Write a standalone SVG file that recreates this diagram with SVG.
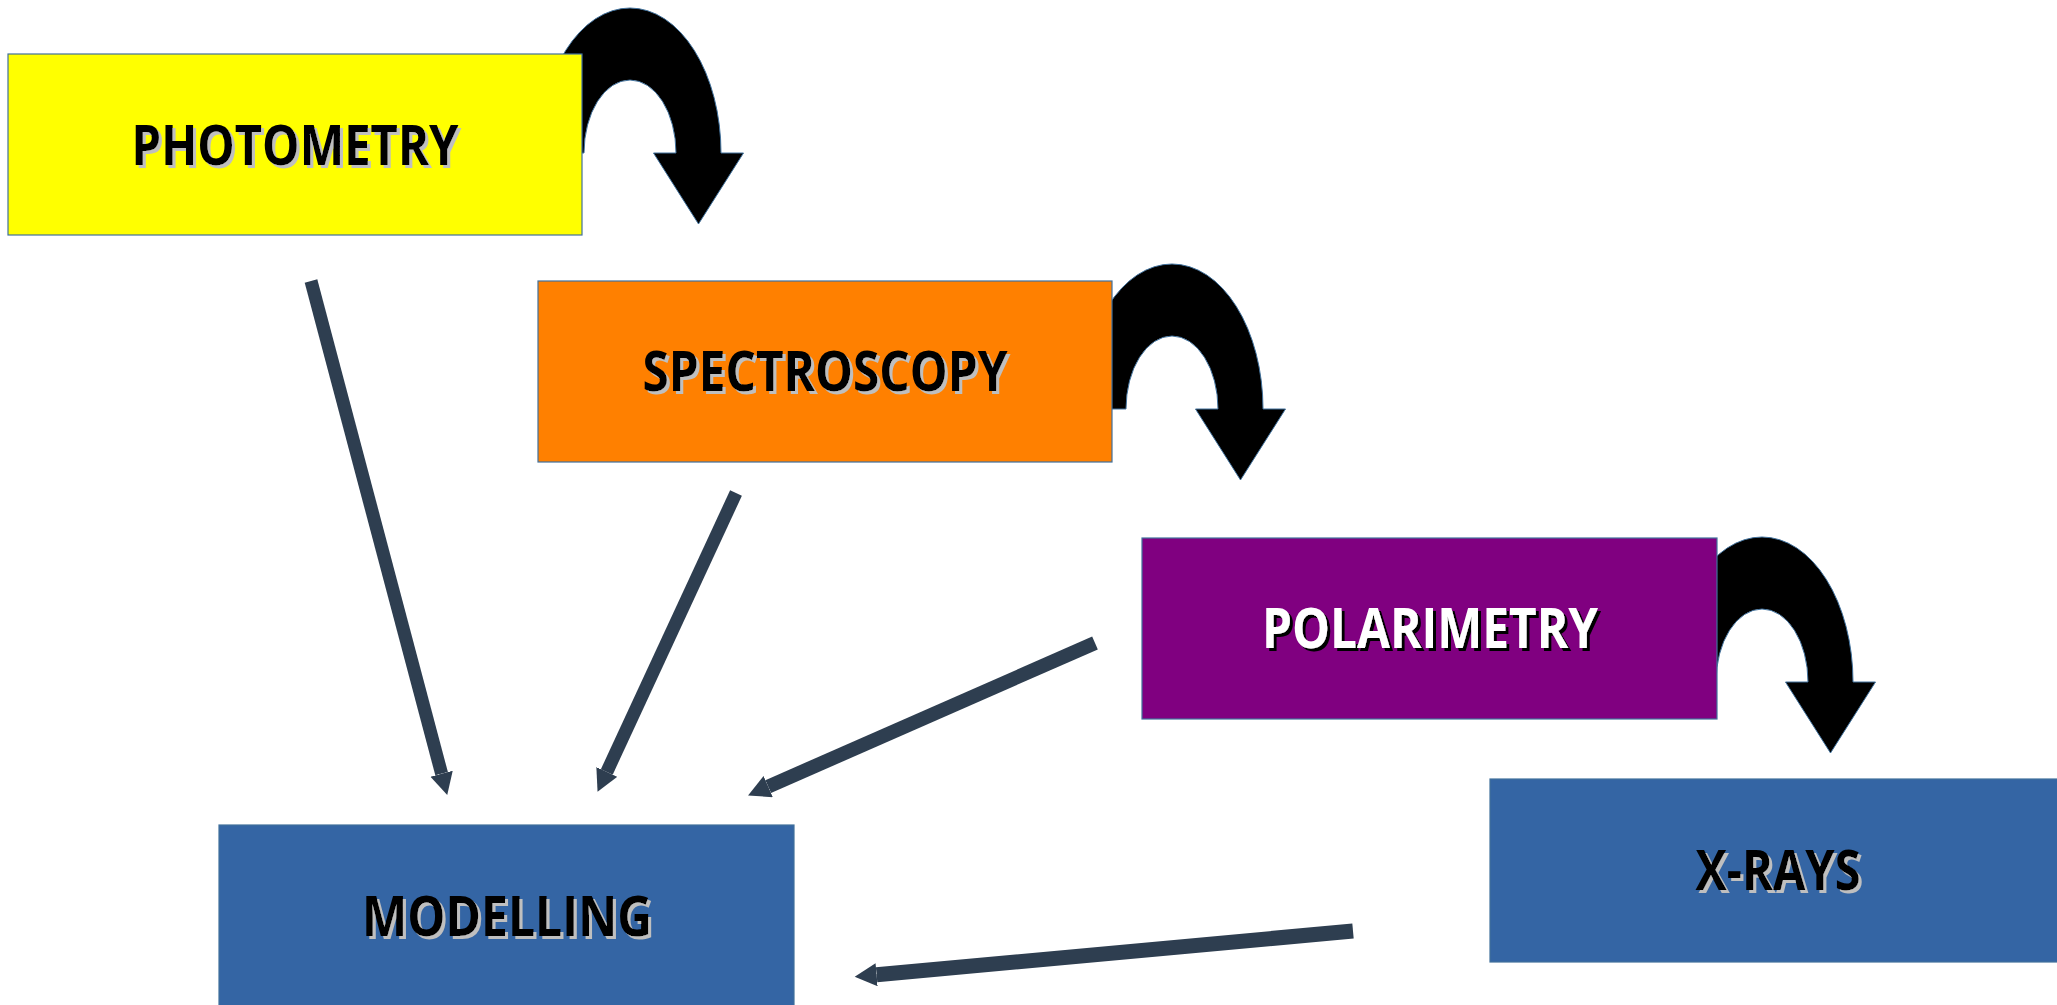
<svg xmlns="http://www.w3.org/2000/svg" xmlns:xlink="http://www.w3.org/1999/xlink" width="2057" height="1005" viewBox="0 0 2057 1005">
  <style>
    .box { stroke: #41719C; stroke-width: 1.2; }
    .lbl { font-family: "Open Sans", "Noto Sans", "DejaVu Sans", sans-serif; font-weight: bold; font-size: 55px; text-anchor: middle; }
    .dark { fill: #000000; filter: url(#shLight); }
    .light { fill: #FFFFFF; filter: url(#shDark); }
    .conn { stroke: #2E3E50; stroke-width: 13; fill: none; stroke-linecap: butt; marker-end: url(#ah); }
    .uturn { fill: #000000; stroke: #41719C; stroke-width: 1; }
  </style>
  <defs>
    <filter id="shLight" x="-5%" y="-20%" width="115%" height="150%">
      <feDropShadow dx="3" dy="3" stdDeviation="0.6" flood-color="#BFBFBF" flood-opacity="1"/>
    </filter>
    <filter id="shDark" x="-5%" y="-20%" width="115%" height="150%">
      <feDropShadow dx="3" dy="3" stdDeviation="0.6" flood-color="#000000" flood-opacity="1"/>
    </filter>
    <marker id="ah" markerUnits="userSpaceOnUse" markerWidth="24" markerHeight="24" refX="0" refY="11.5" orient="auto">
      <path d="M0,0 L22,11.5 L0,23 Z" fill="#2E3E50"/>
    </marker>
    <path id="uturn" d="M -91,0 A 91 145 0 0 1 91,0 L 113.5,0 L 68.5,71 L 23.5,0 L 46,0 A 46 73 0 0 0 -46,0 Z"/>
  </defs>

  <g id="uturn-arrows">
    <use xlink:href="#uturn" class="uturn" transform="translate(630,153)"/>
    <use xlink:href="#uturn" class="uturn" transform="translate(1172,409)"/>
    <use xlink:href="#uturn" class="uturn" transform="translate(1762,682)"/>
  </g>

  <g id="connectors">
    <line class="conn" x1="311" y1="281" x2="441.6" y2="773.7"/>
    <line class="conn" x1="736" y1="493" x2="606.8" y2="771.9"/>
    <line class="conn" x1="1095" y1="643" x2="768.2" y2="786.6" style="stroke-width:14"/>
    <line class="conn" x1="1353" y1="931" x2="876.6" y2="974.8" style="stroke-width:15"/>
  </g>

  <g id="photometry">
    <rect class="box" x="8" y="54" width="574" height="181" fill="#FFFF00"/>
    <text class="lbl dark" x="295" y="165" textLength="327" lengthAdjust="spacingAndGlyphs">PHOTOMETRY</text>
  </g>

  <g id="spectroscopy">
    <rect class="box" x="538" y="281" width="574" height="181" fill="#FF8000"/>
    <text class="lbl dark" x="825" y="391" textLength="365" lengthAdjust="spacingAndGlyphs">SPECTROSCOPY</text>
  </g>

  <g id="polarimetry">
    <rect class="box" x="1142" y="538" width="575" height="181" fill="#800080"/>
    <text class="lbl light" x="1430" y="648" textLength="336" lengthAdjust="spacingAndGlyphs">POLARIMETRY</text>
  </g>

  <g id="xrays">
    <rect class="box" x="1490" y="779" width="580" height="183" fill="#3465A4"/>
    <text class="lbl dark" x="1778" y="890" textLength="165" lengthAdjust="spacingAndGlyphs">X-RAYS</text>
  </g>

  <g id="modelling">
    <rect class="box" x="219" y="825" width="575" height="190" fill="#3465A4"/>
    <text class="lbl dark" x="507" y="936" textLength="290" lengthAdjust="spacingAndGlyphs">MODELLING</text>
  </g>
</svg>
